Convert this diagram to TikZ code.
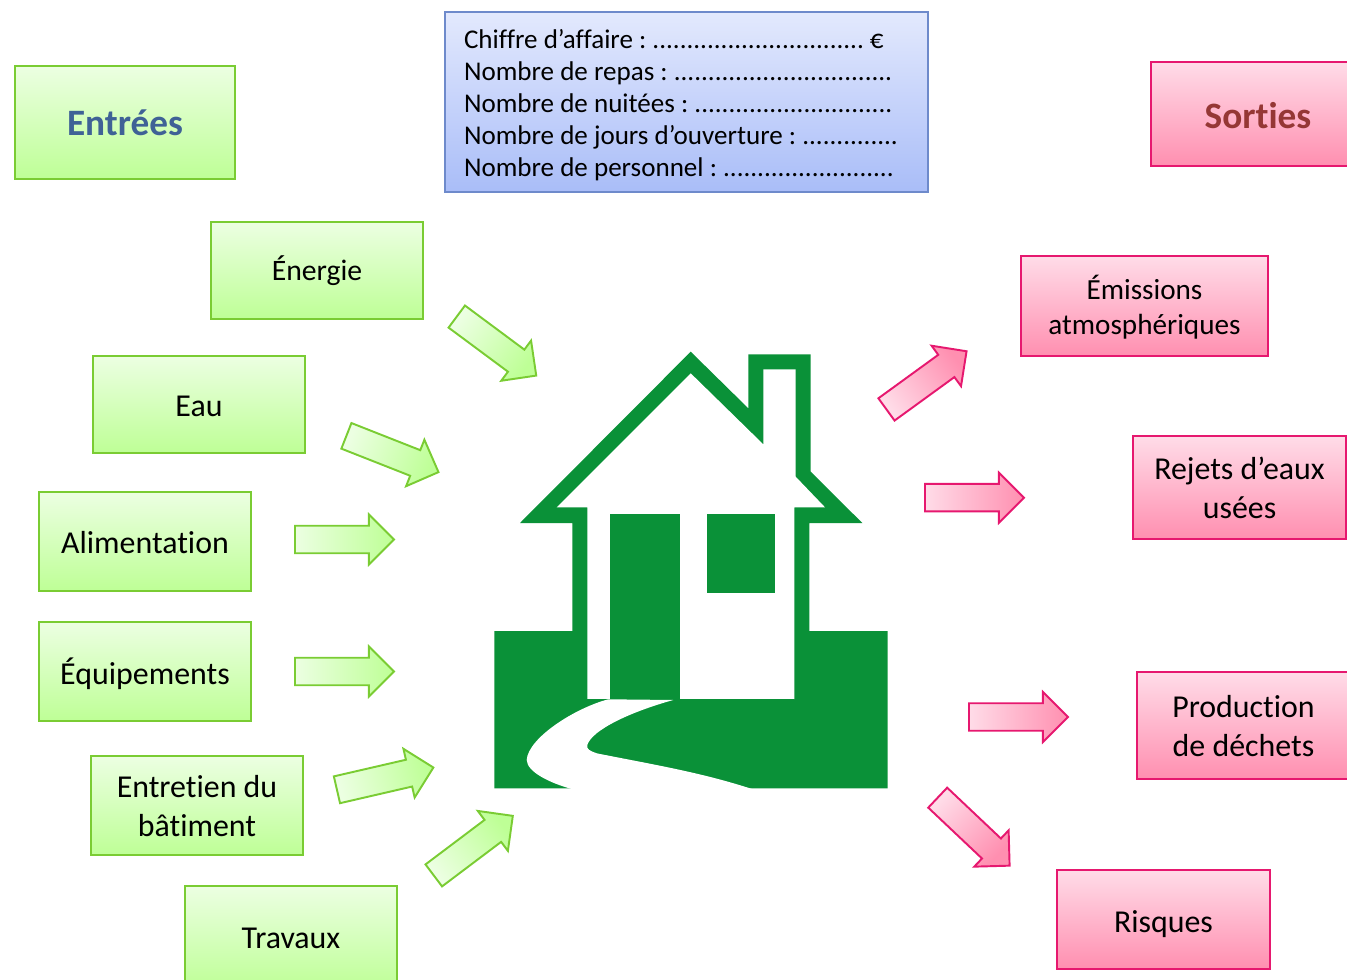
\documentclass[tikz,border=0pt]{standalone}
\usepackage{fontspec}
\setmainfont[Ligatures=NoCommon]{Carlito}
\usepackage{xcolor}
\usetikzlibrary{shapes.arrows}
\definecolor{greenline}{HTML}{7ACC33}
\definecolor{greentop}{HTML}{ECFFE2}
\definecolor{greenbot}{HTML}{BEFF96}
\definecolor{pinkline}{HTML}{E6186F}
\definecolor{pinktop}{HTML}{FFDCE8}
\definecolor{pinkbot}{HTML}{FF8FB0}
\definecolor{houseg}{HTML}{0A9138}
\tikzset{
  inbox/.style={draw=greenline,line width=1.2pt,top color=greentop,bottom color=greenbot,align=center,font=\fontsize{18.15}{22.2}\selectfont,inner sep=0pt},
  outbox/.style={draw=pinkline,line width=1.2pt,top color=pinktop,bottom color=pinkbot,align=center,font=\fontsize{18.15}{22.2}\selectfont,inner sep=0pt},
  oneline/.style={text height=#1,text depth=0.06cm},
  inarrow/.style={single arrow,draw=greenline,line width=1.1pt,left color=greentop,right color=greenbot,minimum width=1cm,minimum height=1.98cm,single arrow head extend=0.22cm,inner xsep=0pt,inner ysep=0.25cm,anchor=tail,rotate=#1,shading angle=90+#1},
  outarrow/.style={single arrow,draw=pinkline,line width=1.1pt,left color=pinktop,right color=pinkbot,minimum width=1cm,minimum height=1.98cm,single arrow head extend=0.22cm,inner xsep=0pt,inner ysep=0.25cm,anchor=tail,rotate=#1,shading angle=90+#1}
}

\begin{document}
\begin{tikzpicture}[x=0.02cm,y=-0.02cm]
\useasboundingbox (0,0) rectangle (1347,980);
\clip (0,0) rectangle (1347,980);

% Titles
\node[inbox,minimum width=4.4cm,minimum height=2.26cm,font=\fontsize{21.2}{24}\selectfont\bfseries,text={rgb,255:red,63;green,98;blue,150}] (entrees) at (125,122.5) {Entrées};
\node[outbox,oneline=0.66cm,minimum width=4.28cm,minimum height=2.08cm,font=\fontsize{21.2}{24}\selectfont\bfseries,text={rgb,255:red,149;green,55;blue,53}] (sorties) at (1258,114) {Sorties};

% Activity data
\node[draw={rgb,255:red,110;green,138;blue,203},line width=1.2pt,top color={rgb,255:red,227;green,233;blue,253},bottom color={rgb,255:red,169;green,189;blue,248},minimum width=9.66cm,minimum height=3.6cm,align=flush left,inner sep=0pt,text width=8.9cm,font=\fontsize{15.4}{18.2}\selectfont\frenchspacing] (activite) at (686.5,102) {\rule{0pt}{14.5pt}Chiffre d’affaire : ............................... €\\Nombre de repas : ................................\\Nombre de nuitées : .............................\\Nombre de jours d’ouverture : ..............\\Nombre de personnel : .........................};

% Inputs
\node[inbox,oneline=0.48cm,minimum width=4.24cm,minimum height=1.94cm,font=\fontsize{16.9}{22}\selectfont] (energie) at (317,270.5) {Énergie};
\node[inbox,oneline=0.56cm,minimum width=4.24cm,minimum height=1.94cm] (eau) at (199,404.5) {Eau};
\node[inbox,oneline=0.56cm,minimum width=4.24cm,minimum height=1.98cm] (alim) at (145,541.5) {Alimentation};
\node[inbox,oneline=0.56cm,minimum width=4.24cm,minimum height=1.98cm] (equip) at (145,671.5) {Équipements};
\node[inbox,minimum width=4.24cm,minimum height=1.98cm] (entretien) at (197,805.5) {\rule{0pt}{13.3pt}Entretien du\\bâtiment};
\node[inbox,oneline=0.48cm,minimum width=4.24cm,minimum height=2.08cm] (travaux) at (291,938) {Travaux};

% Outputs
\node[outbox,minimum width=4.94cm,minimum height=2cm,font=\fontsize{16.6}{19.9}\selectfont] (emissions) at (1144.5,306) {\rule{0pt}{15pt}Émissions\\atmosphériques};
\node[outbox,minimum width=4.26cm,minimum height=2.06cm] (rejets) at (1239.5,487.5) {Rejets d’eaux\\usées};
\node[outbox,minimum width=4.26cm,minimum height=2.14cm] (dechets) at (1243.5,725.5) {\rule{0pt}{13.3pt}Production\\de déchets};
\node[outbox,oneline=0.56cm,minimum width=4.26cm,minimum height=1.98cm] (risques) at (1163.5,919.5) {Risques};

% Block arrows in
\node[inarrow=-36.6] (a1) at (456,316) {};
\node[inarrow=-21.5] (a2) at (345.5,435.5) {};
\node[inarrow=0] (a3) at (294,539.5) {};
\node[inarrow=0] (a4) at (294,671.5) {};
\node[inarrow=13] (a5) at (336,790) {};
\node[inarrow=37] (a6) at (433,876) {};

% Block arrows out
\node[outarrow=36] (b1) at (885.7,410) {};
\node[outarrow=0] (b2) at (924,497.7) {};
\node[outarrow=0] (b3) at (968,717) {};
\node[outarrow=-43.4] (b4) at (937,797) {};

% House
\fill[houseg] (690.7,351.7) -- (748.3,408.3) -- (748.3,354.3) -- (810.7,354.3) -- (810.7,471.7) -- (862.3,523) -- (809.3,523) -- (809.3,631) -- (887.7,631) -- (887.7,788.3) -- (494.3,788.3) -- (494.3,631) -- (572.3,631) -- (572.3,523) -- (520,523) -- cycle;
\fill[white] (690.7,373.3) -- (763.3,444.3) -- (763.3,369.3) -- (795.7,369.3) -- (795.7,476.7) -- (825,507.3) -- (794.3,507.3) -- (794.3,699) -- (587.3,699) -- (587.3,507.3) -- (556.7,507.3) -- cycle;
\fill[houseg] (610,514) rectangle (680,700);
\fill[houseg] (707.3,514) rectangle (774.7,593.3);
\fill[houseg] (587.3,699) rectangle (794.3,720);
% Path
\fill[white] (608.3,699.3) .. controls (575,708) and (528,738) .. (526.7,760) .. controls (527,772) and (550,783) .. (571.7,789) -- (752,789) .. controls (700,772) and (650,764) .. (596.7,753.3) .. controls (590,751) and (586,749) .. (587.3,745) .. controls (592,730) and (630,712) .. (673.3,700) -- cycle;
\end{tikzpicture}
\end{document}
